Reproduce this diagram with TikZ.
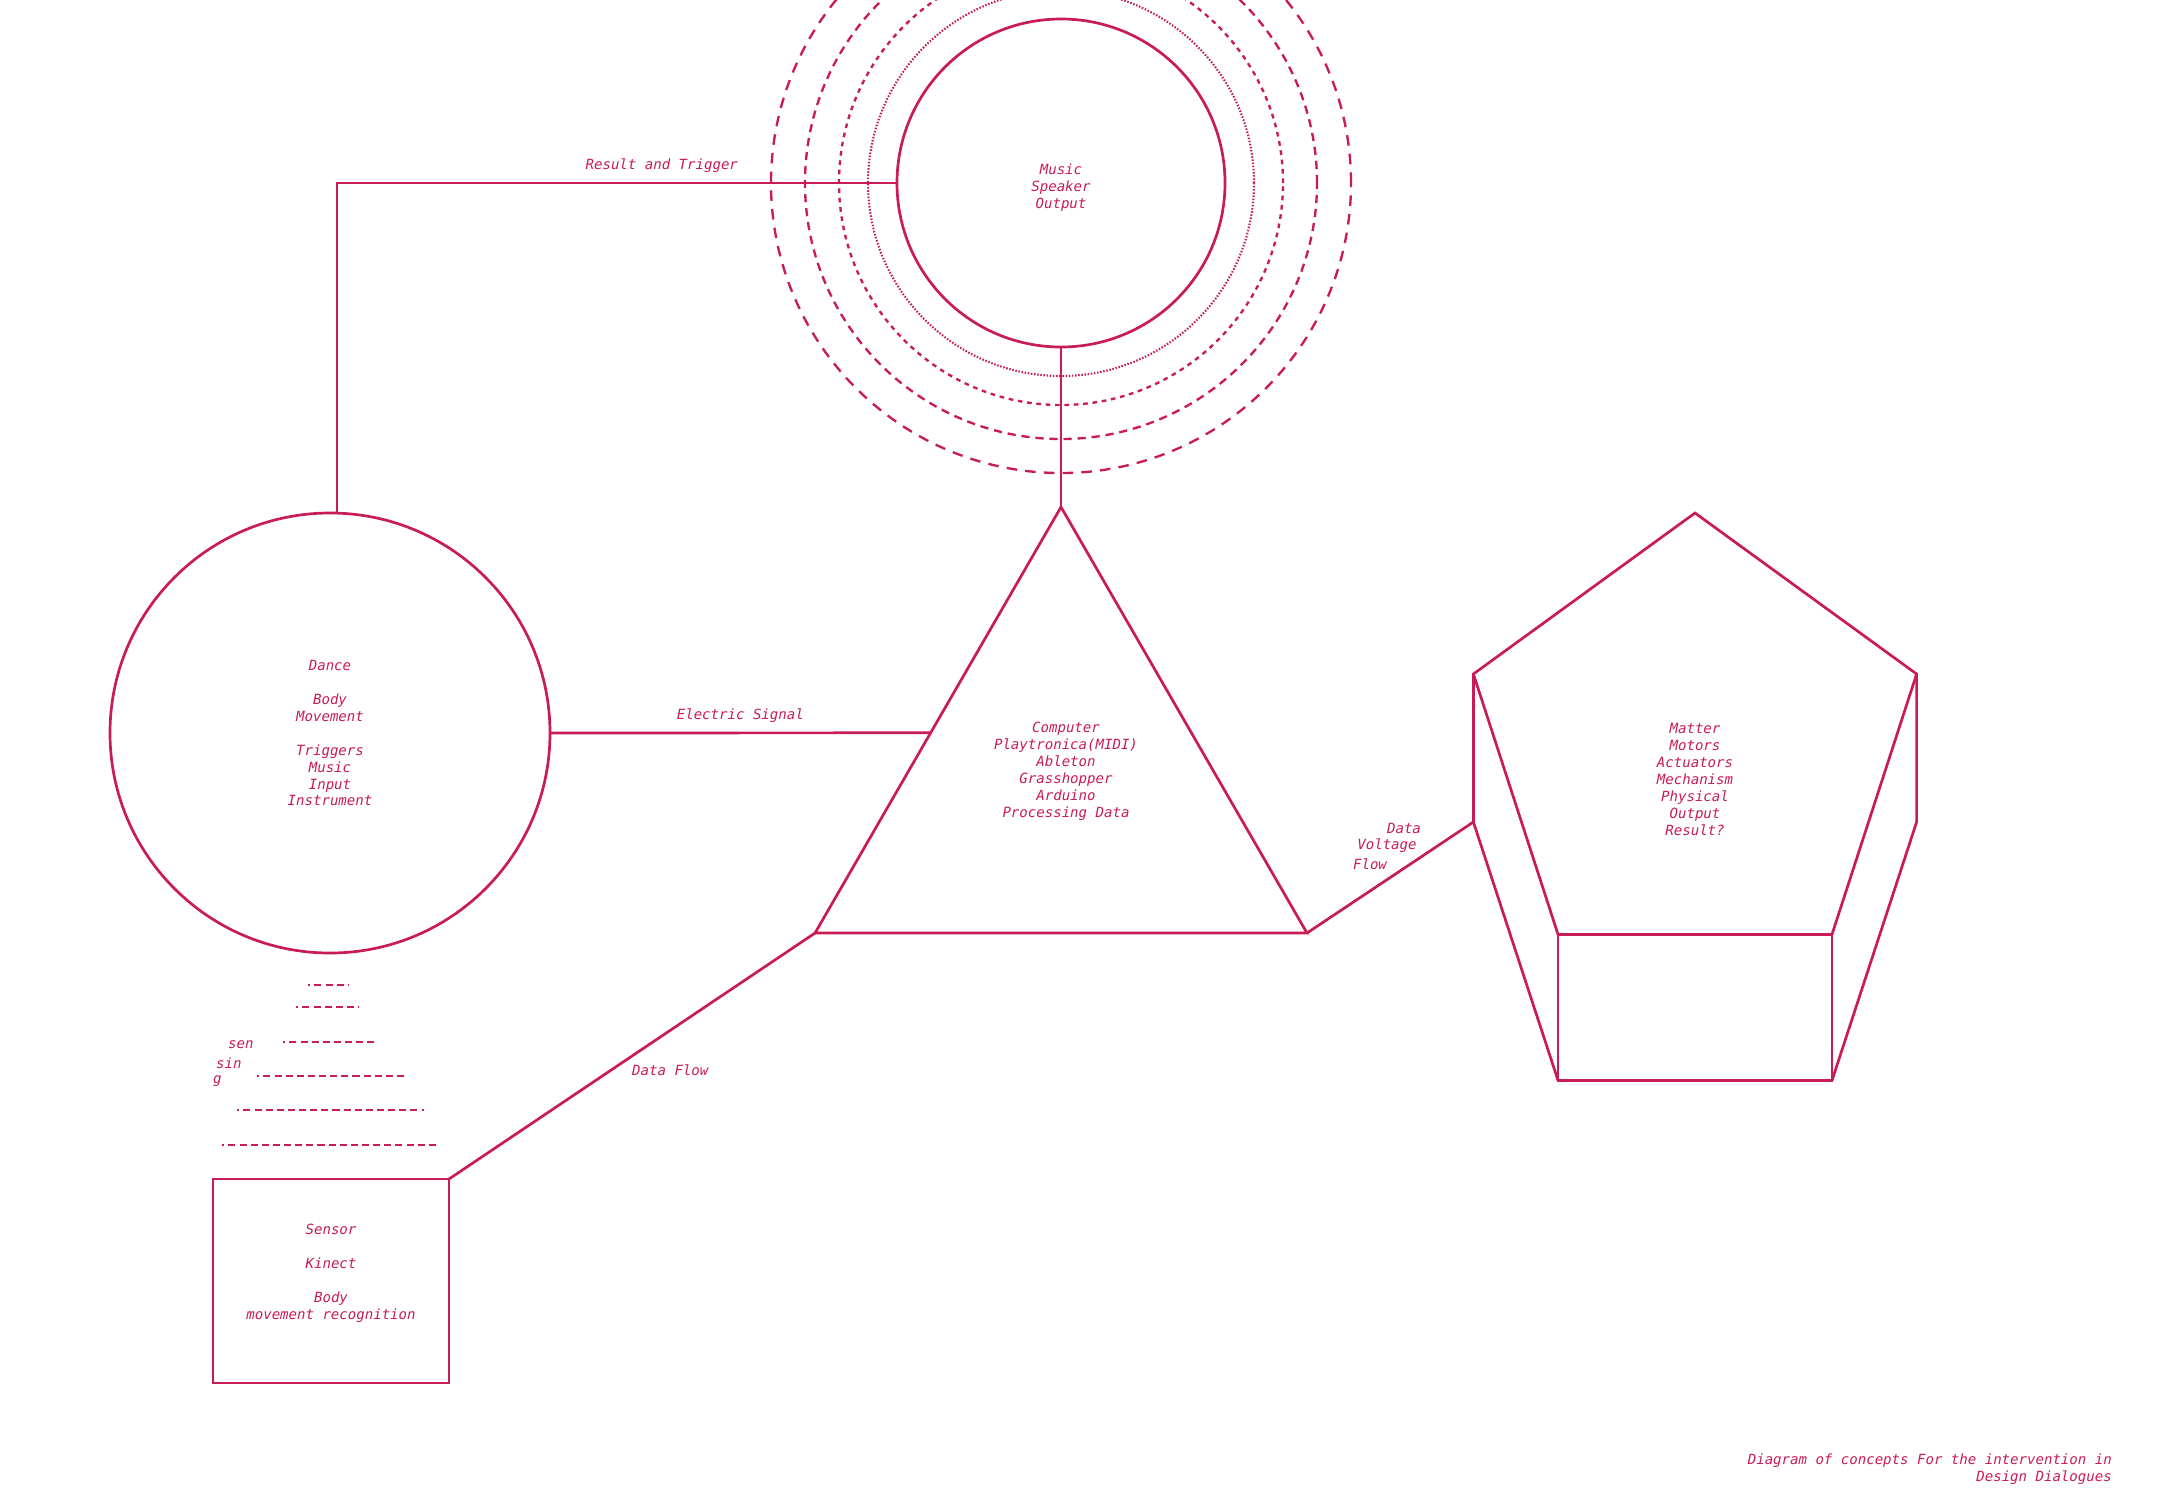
\documentclass[tikz,border=0pt]{standalone}
\usepackage{fontspec}
\setmonofont{DejaVu Sans Mono}
\usetikzlibrary{shapes.geometric,calc}
\definecolor{rasp}{RGB}{200,28,82}

\begin{document}
\begin{tikzpicture}[
    x=0.03cm, y=-0.03cm,
    every node/.style={font=\fontsize{12}{14.5}\selectfont\ttfamily\itshape,
                       text=rasp, align=center, inner sep=0pt},
    form/.style ={draw=rasp, line width=2.3pt, outer sep=0pt},
    ring/.style ={form, circle},
    wave/.style ={draw=rasp, line width=2pt},
    link/.style ={draw=rasp, line width=2.3pt},
    sense/.style={draw=rasp, line width=2.3pt, dash pattern=on 6pt off 3.5pt,
                  dash phase=4pt},
    lbl/.style  ={inner sep=2pt}
  ]
  \useasboundingbox (0,0) rectangle (2158,1504);
  \clip (0,0) rectangle (2158,1504);

  % sound waves round the speaker
  \draw[wave, line width=1.8pt, dash pattern=on 1.3pt off 1.4pt] (1061,183) circle[radius=5.79cm];
  \draw[wave, dash pattern=on 4pt off 4pt] (1061,183) circle[radius=6.66cm];
  \draw[wave, dash pattern=on 7pt off 5pt] (1061,183) circle[radius=7.68cm];
  \draw[wave, dash pattern=on 9pt off 7pt] (1061,183) circle[radius=8.7cm];

  \node[ring, minimum size=9.84cm] (music) at (1061,183) {};
  \node (musictext) at (1061,188) {Music\\Speaker\\Output};
  \node[ring, minimum size=13.2cm]  (dance) at (330,733)
       {Dance\\[14.5pt]Body\\Movement\\[14.5pt]Triggers\\Music\\Input\\Instrument};
  \node[form, regular polygon, regular polygon sides=3, minimum size=17.04cm] (tri) at (1061,791) {};
  \node (tritext) at (1066,771)
       {Computer\\Playtronica(MIDI)\\Ableton\\Grasshopper\\Arduino\\Processing Data};
  \node[form, minimum width=7.08cm, minimum height=6.12cm] (sensor) at (331,1281) {};
  \node (sensortext) at (331,1273)
       {Sensor\\[14.5pt]Kinect\\[14.5pt]Body\\movement recognition};

  % actuator body
  \node[form, regular polygon, regular polygon sides=5, minimum size=13.98cm] (pent) at (1695,746) {};
  \node (penttext) at (1695,779)
       {Matter\\Motors\\Actuators\\Mechanism\\Physical\\Output\\Result?};
  \coordinate (footL) at ($(pent.corner 3)+(0,146)$);
  \coordinate (footR) at ($(pent.corner 4)+(0,146)$);
  \coordinate (hipL)  at ($(pent.corner 2)+(0,148)$);
  \coordinate (hipR)  at ($(pent.corner 5)+(0,148)$);
  \draw[link] (pent.corner 3) -- (footL) -- (footR) -- (pent.corner 4);
  \draw[link] (pent.corner 2) -- (hipL) -- (footL);
  \draw[link] (pent.corner 5) -- (hipR) -- (footR);

  % connectors
  \coordinate (sig) at ($(tri.corner 1)!0.53!(tri.corner 2)$);
  \draw[link] ([xshift=0.21cm]dance.north) |- (music.west)
        node[lbl, pos=0.79, above=6pt] (rt) {Result and Trigger};
  \draw[link] (music.south) -- (tri.corner 1);
  \draw[link] (dance.east) -- (sig)
        node[lbl, midway, above=6pt] (es) {Electric Signal};
  \draw[link] (tri.corner 2) -- (sensor.north east)
        node[lbl, pos=0.5, anchor=north west, yshift=-4pt, xshift=-3pt] (df) {Data Flow};
  \draw[link] (tri.corner 3) -- (hipL);
  \node (dvf1) at (1404,828) {Data};
  \node (dvf2) at (1387,846) {Voltage};
  \node (dvf3) at (1370,864) {Flow};

  % sensing field
  \foreach \y/\a/\b in {985/308/348, 1007/296/359, 1042/283/374,
                        1076/257/405, 1110/237/424, 1145/222/439}
    \draw[sense] (\a,\y) -- (\b,\y);
  \node[anchor=west] (sen1) at (228,1045) {sen};
  \node[anchor=west] (sen2) at (216,1063) {sin};
  \node[anchor=west] (sen3) at (213,1081) {g};

  \node[anchor=east, align=right] (caption) at (2112,1469)
       {Diagram of concepts For the intervention in\\Design Dialogues};
\end{tikzpicture}
\end{document}
